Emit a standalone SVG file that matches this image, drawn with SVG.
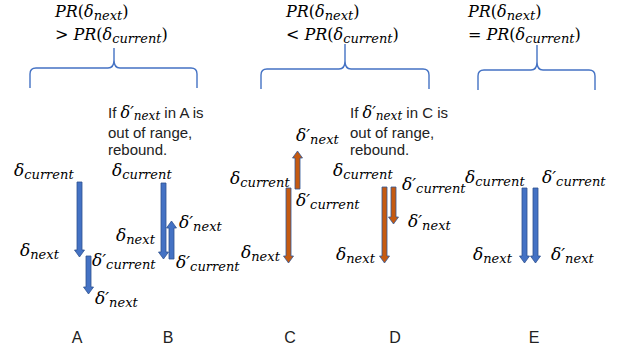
<svg xmlns="http://www.w3.org/2000/svg" width="618" height="352" viewBox="0 0 618 352">
<style>
.bg{fill:#ffffff}
.m{font-family:"DejaVu Serif","Liberation Serif",serif;font-style:italic;font-size:17px;fill:#000}
.t{font-size:16px}
.s{font-size:13px}
.up{font-style:normal}
.n{font-family:"Liberation Sans","Noto Sans",sans-serif;font-size:15px;fill:#222}
.n .m{font-size:16px}
.n .s{font-size:12px}
.lbl{font-family:"Liberation Sans","Noto Sans",sans-serif;font-size:16px;fill:#222;text-anchor:middle}
.brace{fill:none;stroke:#4472C4;stroke-width:1.4}
.blue{fill:#4472C4;stroke:#2F528F;stroke-width:0.8}
.orange{fill:#C55A11;stroke:#2F5597;stroke-width:0.8}
</style>
<rect class="bg" x="0" y="0" width="618" height="352"/>

<g id="titles">
  <text class="m t" x="55" y="17">PR<tspan class="up">(</tspan>δ<tspan class="s" dy="3">next</tspan><tspan class="up" dy="-3">)</tspan></text>
  <text class="m t" x="55" y="40"><tspan class="up">&gt; </tspan>PR<tspan class="up">(</tspan>δ<tspan class="s" dy="3">current</tspan><tspan class="up" dy="-3">)</tspan></text>
  <text class="m t" x="286" y="17">PR<tspan class="up">(</tspan>δ<tspan class="s" dy="3">next</tspan><tspan class="up" dy="-3">)</tspan></text>
  <text class="m t" x="286" y="40"><tspan class="up">&lt; </tspan>PR<tspan class="up">(</tspan>δ<tspan class="s" dy="3">current</tspan><tspan class="up" dy="-3">)</tspan></text>
  <text class="m t" x="468" y="17">PR<tspan class="up">(</tspan>δ<tspan class="s" dy="3">next</tspan><tspan class="up" dy="-3">)</tspan></text>
  <text class="m t" x="468" y="40"><tspan class="up">= </tspan>PR<tspan class="up">(</tspan>δ<tspan class="s" dy="3">current</tspan><tspan class="up" dy="-3">)</tspan></text>
</g>

<g id="braces">
  <path class="brace" d="M30,88 L30,74 Q30,68 36,68 L108,68 Q114,68 114,60 L114,48 M114,60 Q114,68 120,68 L191,68 Q197,68 197,74 L197,88"/>
  <path class="brace" d="M261,89 L261,75 Q261,69 267,69 L339,69 Q345,69 345,61 L345,44 M345,61 Q345,69 351,69 L423,69 Q429,69 429,75 L429,89"/>
  <path class="brace" d="M478,90 L478,76 Q478,70 484,70 L531,70 Q537,70 537,62 L537,45 M537,62 Q537,70 543,70 L589,70 Q595,70 595,76 L595,90"/>
</g>

<g id="notes">
  <text class="n" x="108" y="118">If <tspan class="m">δ′<tspan class="s" dy="2">next</tspan></tspan><tspan dy="-2"> in A is</tspan></text>
  <text class="n" x="108" y="138">out of range,</text>
  <text class="n" x="108" y="155">rebound.</text>
  <text class="n" x="350" y="118">If <tspan class="m">δ′<tspan class="s" dy="2">next</tspan></tspan><tspan dy="-2"> in C is</tspan></text>
  <text class="n" x="350" y="138">out of range,</text>
  <text class="n" x="350" y="155">rebound.</text>
</g>

<g id="connectors">
  <polygon id="arrowA1" class="blue" points="77,182 82,182 82,250 84.5,250 79.5,257 74.5,250 77,250"/>
  <polygon id="arrowA2" class="blue" points="86,256 91,256 91,287 93.5,287 88.5,294 83.5,287 86,287"/>
  <polygon id="arrowB1" class="blue" points="161,183 166,183 166,252 168.5,252 163.5,259 158.5,252 161,252"/>
  <polygon id="arrowB2" class="blue" points="169,259 174,259 174,228 176.5,228 171.5,221 166.5,228 169,228"/>
  <polygon id="arrowC1" class="orange" points="295,189 300,189 300,158 302.5,158 297.5,151 292.5,158 295,158"/>
  <polygon id="arrowC2" class="orange" points="286,188 291,188 291,256 293.5,256 288.5,263 283.5,256 286,256"/>
  <polygon id="arrowD1" class="orange" points="382,187 387,187 387,256 389.5,256 384.5,263 379.5,256 382,256"/>
  <polygon id="arrowD2" class="orange" points="391,187 396,187 396,217 398.5,217 393.5,224 388.5,217 391,217"/>
  <polygon id="arrowE1" class="blue" points="522,188 527,188 527,256 529.5,256 524.5,263 519.5,256 522,256"/>
  <polygon id="arrowE2" class="blue" points="533,188 538,188 538,256 540.5,256 535.5,263 530.5,256 533,256"/>
</g>

<g id="nodeA">
  <text class="m" x="14" y="176">δ<tspan class="s" dy="3">current</tspan></text>
  <text class="m" x="20" y="256">δ<tspan class="s" dy="3">next</tspan></text>
  <text class="m" x="92" y="266">δ′<tspan class="s" dy="3">current</tspan></text>
  <text class="m" x="95" y="304">δ′<tspan class="s" dy="3">next</tspan></text>
  <text class="lbl" x="77" y="343">A</text>
</g>

<g id="nodeB">
  <text class="m" x="112" y="176">δ<tspan class="s" dy="3">current</tspan></text>
  <text class="m" x="116" y="241">δ<tspan class="s" dy="3">next</tspan></text>
  <text class="m" x="179" y="228">δ′<tspan class="s" dy="3">next</tspan></text>
  <text class="m" x="176" y="268">δ′<tspan class="s" dy="3">current</tspan></text>
  <text class="lbl" x="168" y="343">B</text>
</g>

<g id="nodeC">
  <text class="m" x="296" y="141">δ′<tspan class="s" dy="3">next</tspan></text>
  <text class="m" x="230" y="184">δ<tspan class="s" dy="3">current</tspan></text>
  <text class="m" x="296" y="206">δ′<tspan class="s" dy="3">current</tspan></text>
  <text class="m" x="241" y="258">δ<tspan class="s" dy="3">next</tspan></text>
  <text class="lbl" x="290" y="343">C</text>
</g>

<g id="nodeD">
  <text class="m" x="333" y="176">δ<tspan class="s" dy="3">current</tspan></text>
  <text class="m" x="402" y="190">δ′<tspan class="s" dy="3">current</tspan></text>
  <text class="m" x="408" y="227">δ′<tspan class="s" dy="3">next</tspan></text>
  <text class="m" x="336" y="260">δ<tspan class="s" dy="3">next</tspan></text>
  <text class="lbl" x="395" y="343">D</text>
</g>

<g id="nodeE">
  <text class="m" x="465" y="183">δ<tspan class="s" dy="3">current</tspan></text>
  <text class="m" x="542" y="183">δ′<tspan class="s" dy="3">current</tspan></text>
  <text class="m" x="473" y="260">δ<tspan class="s" dy="3">next</tspan></text>
  <text class="m" x="551" y="260">δ′<tspan class="s" dy="3">next</tspan></text>
  <text class="lbl" x="534" y="343">E</text>
</g>
</svg>
